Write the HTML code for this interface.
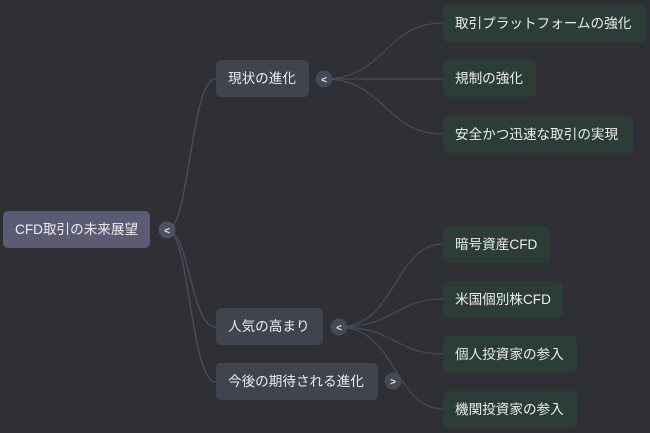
<!DOCTYPE html>
<html><head><meta charset="utf-8"><style>
html,body{margin:0;padding:0}
body{width:650px;height:433px;background:#2f3035;position:relative;overflow:hidden;font-family:"Liberation Sans","Noto Sans CJK JP",sans-serif;}
.n{position:absolute;box-sizing:border-box;color:#ececee;font-size:13.6px;line-height:37px;padding-left:12px;border-radius:5px;white-space:nowrap}
.r{background:#5b5b73}
.l1{background:#3f444e}
.lf{background:#2c3c37}
svg{position:absolute;left:0;top:0}
.t{fill:#e8e8ea;font-size:10px;font-weight:bold;font-family:"Liberation Sans",sans-serif}
</style></head><body>
<svg width="650" height="433">
<g fill="none" stroke="#4d4d62" stroke-width="1.3">
<path d="M167 230 C190 230,190 79,216 79"/>
<path d="M167 230 C190 230,190 327,216 327"/>
<path d="M167 230 C190 230,190 382,216 382"/>
</g>
<g fill="none" stroke="#464a52" stroke-width="1.3">
<path d="M324 79 C385 79,385 23,443 23"/>
<path d="M324 79 L443 79"/>
<path d="M324 79 C385 79,385 134,443 134"/>
<path d="M339 327 C395 327,395 244,443 244"/>
<path d="M339 327 C395 327,395 299,443 299"/>
<path d="M339 327 C395 327,395 354,443 354"/>
<path d="M339 327 C395 327,395 409,443 409"/>
</g>
<g fill="#464a56">
<circle cx="167" cy="230" r="8.5" fill="#4f4f66"/>
<circle cx="324" cy="79" r="8.5"/>
<circle cx="339" cy="327" r="8.5"/>
<circle cx="393" cy="381" r="8.5"/>
</g>
<text class="t" x="167" y="234" text-anchor="middle">&lt;</text>
<text class="t" x="324" y="83" text-anchor="middle">&lt;</text>
<text class="t" x="339" y="331" text-anchor="middle">&lt;</text>
<text class="t" x="393" y="385" text-anchor="middle">&gt;</text>
</svg>
<div class="n r" style="left:3px;top:211px;width:147px;height:37px">CFD取引の未来展望</div>
<div class="n l1" style="left:216px;top:60px;width:93px;height:37px">現状の進化</div>
<div class="n l1" style="left:216px;top:308px;width:107px;height:37px">人気の高まり</div>
<div class="n l1" style="left:216px;top:363px;width:162px;height:37px">今後の期待される進化</div>
<div class="n lf" style="left:443px;top:5px;width:203px;height:37px">取引プラットフォームの強化</div>
<div class="n lf" style="left:443px;top:60px;width:93px;height:37px">規制の強化</div>
<div class="n lf" style="left:443px;top:116px;width:190px;height:37px">安全かつ迅速な取引の実現</div>
<div class="n lf" style="left:443px;top:226px;width:107px;height:37px">暗号資産CFD</div>
<div class="n lf" style="left:443px;top:281px;width:120px;height:37px">米国個別株CFD</div>
<div class="n lf" style="left:443px;top:336px;width:134px;height:37px">個人投資家の参入</div>
<div class="n lf" style="left:443px;top:391px;width:134px;height:37px">機関投資家の参入</div>
</body></html>
